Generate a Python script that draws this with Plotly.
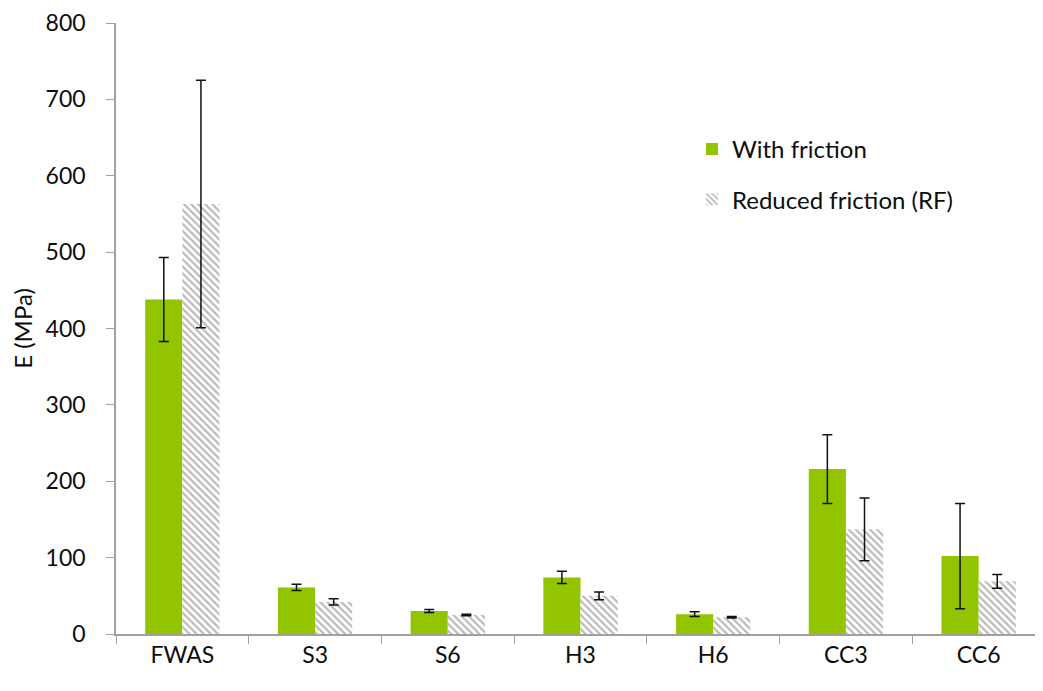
import plotly.graph_objects as go

categories = ["FWAS", "S3", "S6", "H3", "H6", "CC3", "CC6"]

with_friction = [438, 61, 30, 74, 26, 216, 102]
with_friction_err = [55, 4, 2, 8, 3, 45, 69]

reduced_friction = [563, 42, 25, 50, 22, 137, 69]
reduced_friction_err = [162, 4, 1, 5, 1, 41, 9]

font_family = "Lato, Open Sans, sans-serif"
text_color = "#0d0d0d"

fig = go.Figure()

fig.add_trace(go.Bar(
    x=categories,
    y=with_friction,
    name="With friction",
    legendgroup="a",
    marker=dict(color="#92c400", line=dict(width=0)),
    error_y=dict(type="data", array=with_friction_err, color="#111111",
                 thickness=1.5, width=5),
))

fig.add_trace(go.Bar(
    x=categories,
    y=reduced_friction,
    name="Reduced friction (RF)",
    legendgroup="b",
    marker=dict(
        color="white",
        line=dict(width=0),
        pattern=dict(shape="\\", fgcolor="#77726c", bgcolor="white",
                     size=5, solidity=0.42),
    ),
    error_y=dict(type="data", array=reduced_friction_err, color="#111111",
                 thickness=1.5, width=5),
))

# page body adds an 8px offset, margins compensate for it
fig.update_layout(
    width=1043,
    height=691,
    barmode="group",
    bargap=0.44,
    bargroupgap=0,
    plot_bgcolor="white",
    paper_bgcolor="white",
    margin=dict(l=108, r=6, t=15, b=65),
    font=dict(family=font_family, color=text_color),
    legend=dict(
        x=0.62, y=0.83, xanchor="left", yanchor="top",
        font=dict(size=24, color=text_color),
        traceorder="grouped",
        tracegroupgap=16,
        bgcolor="rgba(0,0,0,0)",
    ),
    showlegend=True,
)

fig.update_xaxes(
    automargin=False,
    showline=True,
    linecolor="#a0a0a0",
    linewidth=1.5,
    ticks="outside",
    tickson="boundaries",
    ticklen=8,
    tickcolor="#a0a0a0",
    tickfont=dict(size=23, color=text_color),
    showgrid=False,
)

fig.update_yaxes(
    automargin=False,
    range=[0, 800],
    dtick=100,
    showline=True,
    linecolor="#a0a0a0",
    linewidth=1.5,
    ticks="outside",
    ticklen=8,
    tickcolor="#a0a0a0",
    ticklabelstandoff=16,
    ticklabeloverflow="allow",
    tickfont=dict(size=23, color=text_color),
    showgrid=False,
    zeroline=False,
    title=dict(text="E (MPa)", font=dict(size=24, color=text_color), standoff=12),
)

fig.write_html("out.html")
